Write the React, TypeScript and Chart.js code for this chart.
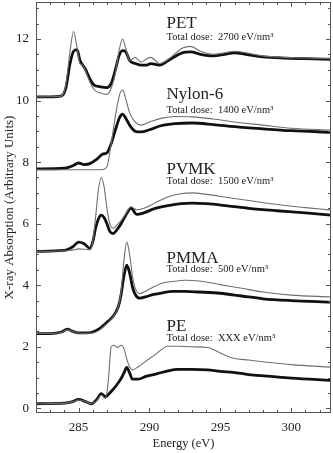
import React, { useEffect, useRef } from "react";
import { Chart, registerables } from "chart.js";
Chart.register(...registerables);

// ---- data (Energy eV -> absorption, arbitrary units, stacked offsets) ----
const petEnergy = [282, 283, 283.8, 284.1, 284.4, 284.65, 284.9, 285.1, 285.3, 285.5, 285.8, 286.1, 286.5, 287.0, 287.3, 287.6, 287.85, 288.1, 288.3, 288.6, 289.0, 289.4, 289.8, 290.1, 290.7, 291.5, 292.3, 292.9, 293.6, 294.5, 295.3, 296.0, 296.8, 298, 299.5, 301, 302.8];
const petThin = [10.12, 10.12, 10.15, 10.5, 11.6, 12.24, 11.7, 11.2, 11.15, 10.95, 10.6, 10.35, 10.25, 10.2, 10.4, 10.9, 11.6, 12.0, 11.75, 11.3, 11.4, 11.25, 11.35, 11.4, 11.2, 11.4, 11.7, 11.76, 11.6, 11.5, 11.55, 11.6, 11.55, 11.45, 11.4, 11.38, 11.36];
const petThick = [10.12, 10.12, 10.15, 10.4, 11.2, 11.6, 11.65, 11.3, 11.15, 11.0, 10.7, 10.5, 10.45, 10.42, 10.55, 11.0, 11.45, 11.62, 11.6, 11.3, 11.2, 11.15, 11.15, 11.2, 11.15, 11.35, 11.55, 11.58, 11.5, 11.45, 11.5, 11.55, 11.5, 11.42, 11.38, 11.36, 11.34];

const nylonEnergy = [282, 284, 284.6, 285.0, 285.4, 285.8, 286.3, 286.7, 287.0, 287.3, 287.6, 287.9, 288.1, 288.3, 288.6, 289.0, 289.4, 290, 290.8, 291.8, 293, 294.5, 296, 298, 300, 302.8];
const nylonThin = [7.75, 7.75, 7.75, 7.75, 7.75, 7.75, 7.75, 7.76, 7.85, 8.6, 9.5, 10.2, 10.34, 10.1, 9.6, 9.3, 9.2, 9.3, 9.42, 9.48, 9.47, 9.4, 9.3, 9.2, 9.1, 9.04];
const nylonThick = [7.78, 7.8, 7.88, 7.97, 7.92, 7.95, 8.1, 8.26, 8.3, 8.6, 9.05, 9.45, 9.56, 9.45, 9.2, 9.0, 8.98, 9.05, 9.18, 9.25, 9.27, 9.22, 9.15, 9.08, 9.02, 8.97];

const pvmkEnergy = [282, 284, 284.6, 285.0, 285.4, 285.8, 286.0, 286.2, 286.4, 286.6, 286.8, 287.0, 287.2, 287.45, 287.7, 288.0, 288.3, 288.7, 289.1, 289.6, 290.3, 291.2, 292.2, 293, 294, 295.5, 297, 299, 301, 302.8];
const pvmkThin = [5.1, 5.12, 5.14, 5.18, 5.17, 5.15, 5.4, 6.2, 7.1, 7.5, 7.2, 6.5, 6.0, 5.85, 5.95, 6.1, 6.3, 6.55, 6.45, 6.5, 6.65, 6.85, 6.97, 7.0, 6.95, 6.85, 6.75, 6.62, 6.52, 6.44];
const pvmkThick = [5.1, 5.13, 5.25, 5.4, 5.35, 5.2, 5.4, 5.85, 6.15, 6.28, 6.2, 6.0, 5.75, 5.68, 5.8, 6.0, 6.25, 6.5, 6.3, 6.35, 6.48, 6.58, 6.65, 6.67, 6.65, 6.58, 6.5, 6.42, 6.35, 6.28];

const pmmaEnergy = [282, 283, 283.8, 284.2, 284.6, 285.0, 285.5, 286.0, 286.5, 287.0, 287.4, 287.8, 288.0, 288.2, 288.4, 288.6, 288.8, 289.0, 289.3, 289.7, 290.3, 291, 291.6, 292.5, 293.5, 295, 296.5, 298, 300, 302.8];
const pmmaThin = [2.43, 2.43, 2.47, 2.55, 2.5, 2.45, 2.44, 2.45, 2.55, 2.75, 2.95, 3.3, 3.8, 4.8, 5.4, 5.0, 4.3, 3.9, 3.73, 3.8, 3.95, 4.08, 4.12, 4.16, 4.14, 4.02, 3.9, 3.78, 3.68, 3.62];
const pmmaThick = [2.43, 2.43, 2.48, 2.57, 2.5, 2.45, 2.45, 2.48, 2.6, 2.8, 2.97, 3.3, 3.7, 4.3, 4.65, 4.4, 3.95, 3.7, 3.58, 3.62, 3.7, 3.76, 3.8, 3.8, 3.78, 3.74, 3.65, 3.56, 3.5, 3.45];

const peEnergy = [282, 284, 284.6, 285.0, 285.5, 285.9, 286.3, 286.6, 286.9, 287.1, 287.3, 287.5, 287.75, 288.0, 288.2, 288.4, 288.6, 288.8, 289.2, 289.8, 290.5, 291.3, 292.0, 293, 294.1, 295, 295.9, 297, 298.3, 300, 302.8];
const peThin = [0.15, 0.17, 0.22, 0.27, 0.22, 0.15, 0.25, 0.43, 0.32, 0.9, 2.0, 2.05, 1.98, 2.05, 1.95, 1.6, 1.35, 1.25, 1.35, 1.55, 1.78, 2.02, 2.02, 2.0, 1.98, 1.8, 1.63, 1.57, 1.5, 1.42, 1.34];
const peThick = [0.15, 0.17, 0.22, 0.29, 0.22, 0.15, 0.3, 0.48, 0.38, 0.45, 0.55, 0.65, 0.8, 0.97, 1.15, 1.33, 1.15, 0.95, 0.95, 1.05, 1.12, 1.22, 1.27, 1.27, 1.25, 1.2, 1.17, 1.1, 1.05, 0.98, 0.91];

const polymerNames = ["PET", "Nylon-6", "PVMK", "PMMA", "PE"];
const doseTexts = [
  "Total dose:  2700 eV/nm\u00B3",
  "Total dose:  1400 eV/nm\u00B3",
  "Total dose:  1500 eV/nm\u00B3",
  "Total dose:  500 eV/nm\u00B3",
  "Total dose:  XXX eV/nm\u00B3",
];
const xTickLabels = [285, 290, 295, 300];
const yTickLabels = [0, 2, 4, 6, 8, 10, 12];

// label anchor positions (data coordinates)
const labelEnergy = 291.2;
const nameLevel = [12.49, 10.21, 7.77, 4.88, 2.67];
const doseLevel = [12.07, 9.69, 7.38, 4.52, 2.28];

const SERIF = "'Liberation Serif', 'Times New Roman', serif";

const pts = (xs: number[], ys: number[]) => xs.map((x, i) => ({ x, y: ys[i] }));

const framePlugin = {
  id: "frameTicks",
  afterDraw(chart: any) {
    const { ctx, chartArea: a, scales } = chart;
    const xs = scales.x;
    const ys = scales.y;
    ctx.save();
    ctx.strokeStyle = "#555";
    ctx.lineWidth = 1;
    ctx.strokeRect(a.left + 0.5, a.top + 0.5, a.right - a.left - 1, a.bottom - a.top - 1);
    ctx.beginPath();
    for (let e = 282; e <= 302.8; e += 1) {
      const px = Math.round(xs.getPixelForValue(e)) + 0.5;
      const len = e % 5 === 0 ? 5 : 3;
      ctx.moveTo(px, a.bottom);
      ctx.lineTo(px, a.bottom - len);
      ctx.moveTo(px, a.top);
      ctx.lineTo(px, a.top + len);
    }
    for (let v = 0; v <= 13.0001; v += 0.5) {
      const py = Math.round(ys.getPixelForValue(v)) + 0.5;
      const len = Math.abs(v % 2) < 1e-6 ? 5 : 3;
      ctx.moveTo(a.left, py);
      ctx.lineTo(a.left + len, py);
      ctx.moveTo(a.right, py);
      ctx.lineTo(a.right - len, py);
    }
    ctx.stroke();

    ctx.fillStyle = "#222";
    ctx.textAlign = "left";
    ctx.textBaseline = "middle";
    const lx = xs.getPixelForValue(labelEnergy);
    polymerNames.forEach((name, i) => {
      ctx.font = `17px ${SERIF}`;
      ctx.fillText(name, lx, ys.getPixelForValue(nameLevel[i]));
      ctx.font = `10.5px ${SERIF}`;
      ctx.fillText(doseTexts[i], lx, ys.getPixelForValue(doseLevel[i]));
    });
    ctx.restore();
  },
};

export default function App() {
  const ref = useRef<HTMLCanvasElement | null>(null);
  useEffect(() => {
    if (!ref.current) return;
    const thin = (label: string, xs: number[], ys: number[]) => ({
      label,
      data: pts(xs, ys),
      borderColor: "#6e6e6e",
      borderWidth: 1.1,
      pointRadius: 0,
      cubicInterpolationMode: "monotone" as const,
      fill: false,
    });
    const thick = (label: string, xs: number[], ys: number[]) => ({
      label,
      data: pts(xs, ys),
      borderColor: "#111",
      borderWidth: 2.8,
      pointRadius: 0,
      cubicInterpolationMode: "monotone" as const,
      fill: false,
    });
    const chart = new Chart(ref.current, {
      type: "line",
      data: {
        datasets: [
          thin("PET", petEnergy, petThin),
          thick("PET damaged", petEnergy, petThick),
          thin("Nylon-6", nylonEnergy, nylonThin),
          thick("Nylon-6 damaged", nylonEnergy, nylonThick),
          thin("PVMK", pvmkEnergy, pvmkThin),
          thick("PVMK damaged", pvmkEnergy, pvmkThick),
          thin("PMMA", pmmaEnergy, pmmaThin),
          thick("PMMA damaged", pmmaEnergy, pmmaThick),
          thin("PE", peEnergy, peThin),
          thick("PE damaged", peEnergy, peThick),
        ],
      },
      options: {
        animation: false,
        responsive: false,
        events: [],
        layout: { padding: { top: 2, right: 2, left: 0, bottom: 0 } },
        plugins: { legend: { display: false }, tooltip: { enabled: false } },
        scales: {
          x: {
            type: "linear",
            min: 282,
            max: 302.8,
            grid: { display: false, drawTicks: false },
            border: { display: false },
            ticks: {
              stepSize: 5,
              includeBounds: false,
              padding: 7,
              color: "#222",
              font: { family: SERIF, size: 13 },
              callback: (v: any) => (xTickLabels.includes(Number(v)) ? String(v) : ""),
              maxRotation: 0,
            },
            title: {
              display: true,
              text: "Energy (eV)",
              color: "#222",
              font: { family: SERIF, size: 12.5 },
              padding: { top: 0, bottom: 2 },
            },
            afterFit: (s: any) => {
              s.height = 40;
              s.paddingLeft = 0;
              s.paddingRight = 0;
            },
          },
          y: {
            type: "linear",
            min: -0.15,
            max: 13.2,
            grid: { display: false, drawTicks: false },
            border: { display: false },
            ticks: {
              stepSize: 2,
              includeBounds: false,
              padding: 7,
              color: "#222",
              font: { family: SERIF, size: 13 },
              callback: (v: any) => (yTickLabels.includes(Number(v)) ? String(v) : ""),
            },
            title: {
              display: true,
              text: "X-ray Absorption (Arbitrary Units)",
              color: "#222",
              font: { family: SERIF, size: 13 },
              padding: { top: 2, bottom: 0 },
            },
            afterFit: (s: any) => {
              s.width = 36;
              s.paddingTop = 0;
              s.paddingBottom = 0;
            },
          },
        },
      },
      plugins: [framePlugin],
    });
    return () => chart.destroy();
  }, []);
  return (
    <div style={{ position: "fixed", left: 0, top: 0, width: 333, height: 453, background: "#fff" }}>
      <canvas ref={ref} width={333} height={453} style={{ display: "block" }} />
    </div>
  );
}
